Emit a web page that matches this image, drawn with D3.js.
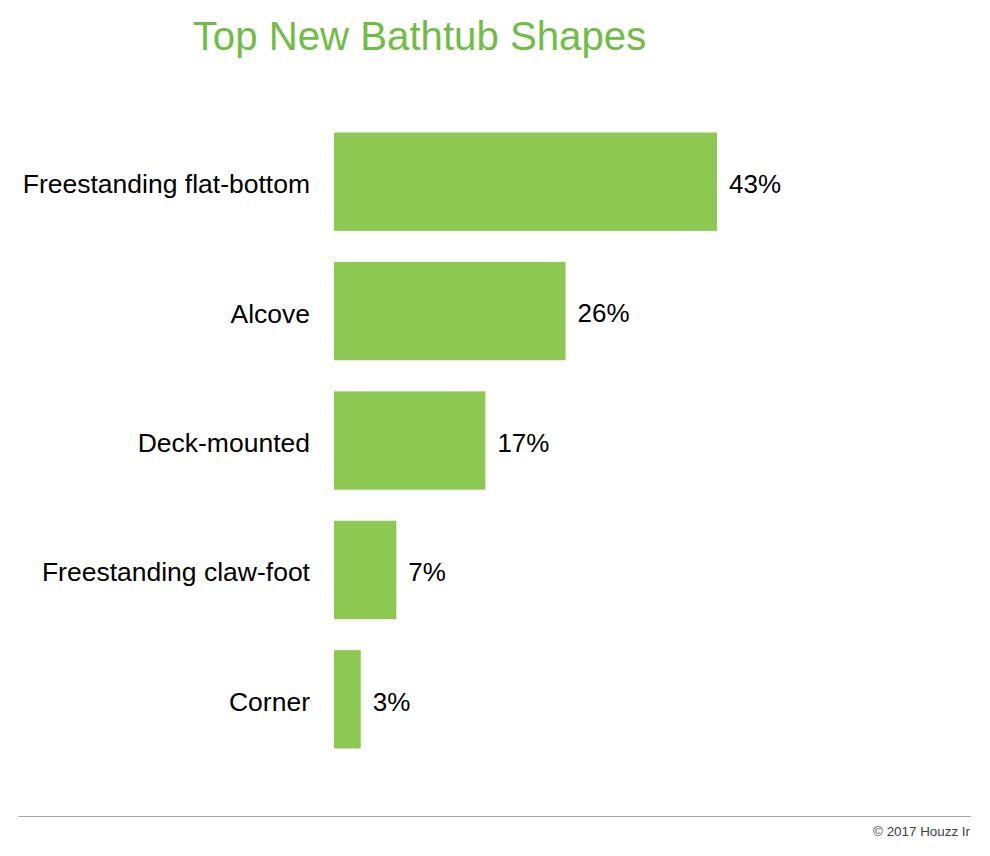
<!DOCTYPE html>
<html>
<head>
<meta charset="utf-8">
<script src="https://cdn.jsdelivr.net/npm/d3@7"></script>
<style>
  body { margin: 0; background: #fff; }
  svg { display: block; font-family: "Liberation Sans", Arial, sans-serif; }
</style>
</head>
<body>
<div id="chart"></div>
<script>
var categories = [ "Freestanding flat-bottom", "Alcove", "Deck-mounted", "Freestanding claw-foot", "Corner" ];
var shares = [ 43, 26, 17, 7, 3 ];
var valueLabels = [ "43%", "26%", "17%", "7%", "3%" ];

var width = 990;
var height = 856;

var svg = d3.select( "#chart" ).append( "svg" )
    .attr( "width", width )
    .attr( "height", height );

// title
svg.append( "text" )
    .text( "Top New Bathtub Shapes" )
    .attr( "x", 419.5 )
    .attr( "y", 50 )
    .attr( "fill", "#6fbe44" )
    .style( "text-anchor", "middle" )
    .style( "font-size", "40.2px" );

var x = d3.scaleLinear()
    .domain( [ 0, 43 ] )
    .range( [ 334, 717 ] );

var y = d3.scaleBand()
    .domain( categories )
    .range( [ 117, 764 ] )
    .paddingInner( 0.24 )
    .paddingOuter( 0.12 );

var data = categories.map( function ( c, i ) {
    return { name: c, value: shares[ i ], label: valueLabels[ i ] };
} );

svg.selectAll( "rect.bar" )
    .data( data )
    .enter().append( "rect" )
    .attr( "class", "bar" )
    .attr( "x", x( 0 ) )
    .attr( "y", function ( d ) { return y( d.name ); } )
    .attr( "width", function ( d ) { return x( d.value ) - x( 0 ); } )
    .attr( "height", y.bandwidth() )
    .attr( "fill", "#8dc853" );

// category labels
svg.selectAll( "text.cat" )
    .data( data )
    .enter().append( "text" )
    .attr( "class", "cat" )
    .text( function ( d ) { return d.name; } )
    .attr( "x", 310 )
    .attr( "y", function ( d ) { return y( d.name ) + y.bandwidth() / 2 + 2; } )
    .attr( "dy", "0.36em" )
    .attr( "fill", "#000" )
    .style( "text-anchor", "end" )
    .style( "font-size", "26.5px" );

// value labels
svg.selectAll( "text.val" )
    .data( data )
    .enter().append( "text" )
    .attr( "class", "val" )
    .text( function ( d ) { return d.label; } )
    .attr( "x", function ( d ) { return x( d.value ) + 12; } )
    .attr( "y", function ( d ) { return y( d.name ) + y.bandwidth() / 2 + 2; } )
    .attr( "dy", "0.36em" )
    .attr( "fill", "#000" )
    .style( "font-size", "26px" );

// footer
svg.append( "line" )
    .attr( "x1", 18 )
    .attr( "x2", 971 )
    .attr( "y1", 816.5 )
    .attr( "y2", 816.5 )
    .attr( "stroke", "#a6a6a6" )
    .attr( "stroke-width", 1 );

svg.append( "text" )
    .text( "© 2017 Houzz Ir" )
    .attr( "x", 970 )
    .attr( "y", 836 )
    .attr( "fill", "#404040" )
    .style( "text-anchor", "end" )
    .style( "font-size", "13.4px" );
</script>
</body>
</html>
